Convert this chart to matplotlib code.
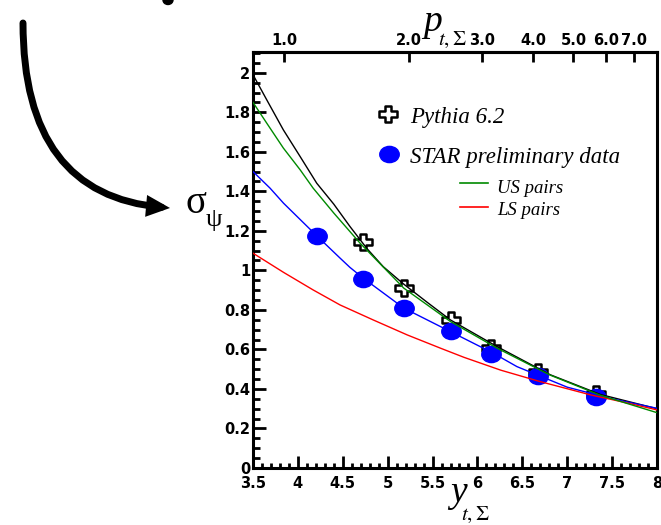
import numpy as np
import matplotlib
matplotlib.use('Agg')
import matplotlib.pyplot as plt
from matplotlib.patches import FancyArrowPatch, Ellipse
from matplotlib.path import Path
from matplotlib.markers import MarkerStyle
from matplotlib.transforms import Affine2D
from matplotlib.ticker import MultipleLocator, NullLocator

# STAR preliminary data points
star_y = [4.21, 4.73, 5.18, 5.70, 6.15, 6.67, 7.32]
star_sigma = [1.176, 0.958, 0.810, 0.695, 0.578, 0.467, 0.360]

# Pythia 6.2 points
pythia_y = [4.73, 5.18, 5.70, 6.15, 6.67, 7.32]
pythia_sigma = [1.146, 0.910, 0.749, 0.606, 0.485, 0.372]

# curves
black_y = [3.5, 3.653, 3.838, 4.025, 4.21, 4.40, 4.58, 4.77, 4.95, 5.18, 5.45, 5.70,
           6.22, 6.81, 7.37, 8.0]
black_s = [1.99, 1.863, 1.711, 1.576, 1.441, 1.335, 1.222, 1.11, 1.019, 0.93, 0.835, 0.749,
           0.614, 0.472, 0.372, 0.300]

us_y = [3.5, 3.653, 3.838, 4.025, 4.17, 4.40, 4.69, 5.18, 5.70, 6.22, 6.81, 7.37, 8.0]
us_s = [1.85, 1.745, 1.619, 1.509, 1.416, 1.29, 1.139, 0.91, 0.741, 0.606, 0.470, 0.368, 0.280]

blue_y = [3.5, 3.69, 3.84, 4.21, 4.47, 4.58, 4.73, 5.18, 5.70, 6.18, 6.44, 7.0, 7.5, 8.0]
blue_s = [1.50, 1.416, 1.34, 1.175, 1.062, 1.015, 0.96, 0.809, 0.69, 0.58, 0.513, 0.409,
          0.35, 0.302]

ls_y = [3.5, 3.84, 4.17, 4.47, 4.84, 5.22, 5.59, 5.85, 6.26, 6.70, 7.26, 7.6, 8.0]
ls_s = [1.087, 0.99, 0.901, 0.825, 0.749, 0.673, 0.606, 0.56, 0.495, 0.437, 0.37, 0.336, 0.294]

# top axis (p_t) ticks
p_ticks = [1.0, 2.0, 3.0, 4.0, 5.0, 6.0, 7.0]
p_labels = ['1.0', '2.0', '3.0', '4.0', '5.0', '6.0', '7.0']

W, H = 661, 525
plt.rcParams['mathtext.fontset'] = 'stix'
fig = plt.figure(figsize=(6.61, 5.25), dpi=100)
ax = fig.add_axes([253 / W, 1 - 468 / H, 404 / W, 416 / H])


def fpx(x, y):
    # pixel position -> figure fraction
    return (x / W, 1 - y / H)


# markers are a bit wider than tall in the original
wide = Affine2D().scale(1.2, 1.0)
blob = MarkerStyle(Path.unit_circle().transformed(wide))
t = 0.36
plus_pts = [(-t, 1), (t, 1), (t, t), (1, t), (1, -t), (t, -t), (t, -1), (-t, -1),
            (-t, -t), (-1, -t), (-1, t), (-t, t), (-t, 1)]
cross = MarkerStyle(Path(plus_pts, closed=True).transformed(wide))

ax.plot(pythia_y, pythia_sigma, ls='none', marker=cross, ms=13.5, mfc='white',
        mec='black', mew=1.8, zorder=3)
ax.plot(star_y, star_sigma, ls='none', marker=blob, ms=14, mfc='#0000ff',
        mec='#0000ff', zorder=4)
ax.plot(black_y, black_s, color='black', lw=1.0, zorder=5)
ax.plot(blue_y, blue_s, color='#0000ff', lw=1.0, zorder=5)
ax.plot(ls_y, ls_s, color='#ff0000', lw=1.0, zorder=5)
ax.plot(us_y, us_s, color='#008a00', lw=1.0, zorder=6)

ax.set_xlim(3.5, 8.0)
ax.set_ylim(0, 2.105)
ax.xaxis.set_minor_locator(MultipleLocator(0.1))
ax.yaxis.set_minor_locator(MultipleLocator(0.05))
ax.set_xticks([3.5, 4, 4.5, 5, 5.5, 6, 6.5, 7, 7.5, 8])
ax.set_xticklabels(['3.5', '4', '4.5', '5', '5.5', '6', '6.5', '7', '7.5', '8'])
ax.set_yticks([0, 0.2, 0.4, 0.6, 0.8, 1.0, 1.2, 1.4, 1.6, 1.8, 2.0])
ax.set_yticklabels(['0', '0.2', '0.4', '0.6', '0.8', '1', '1.2', '1.4', '1.6', '1.8', '2'])

ax.tick_params(which='both', direction='in', top=False, right=False, width=2)
ax.tick_params(axis='x', which='major', length=8.6, pad=6)
ax.tick_params(axis='x', which='minor', length=3.6)
ax.tick_params(axis='y', which='major', length=9, pad=2)
ax.tick_params(axis='y', which='minor', length=4.8)
for lab in ax.get_xticklabels() + ax.get_yticklabels():
    lab.set_fontweight('bold')
    lab.set_fontsize(10.5)
for sp in ax.spines.values():
    sp.set_linewidth(2.2)

# top axis in p_t
secax = ax.secondary_xaxis(
    'top',
    functions=(lambda y: np.exp((y - 3.85) / 2.0),
               lambda p: 3.85 + 2.0 * np.log(np.clip(p, 1e-6, None))))
secax.set_xticks(p_ticks)
secax.set_xticklabels(p_labels)
secax.xaxis.set_minor_locator(NullLocator())
secax.tick_params(direction='in', length=7, width=2, pad=3)
secax.spines['top'].set_linewidth(2.2)
for lab in secax.get_xticklabels():
    lab.set_fontweight('bold')
    lab.set_fontsize(10.5)

# legend drawn by hand
ax.plot([0.335], [0.850], transform=ax.transAxes, ls='none', marker=cross, ms=13.5,
        mfc='white', mec='black', mew=1.8, clip_on=False)
ax.plot([0.336], [0.755], transform=ax.transAxes, ls='none', marker=blob, ms=14,
        mfc='#0000ff', mec='#0000ff', clip_on=False)
ax.plot([0.512, 0.581], [0.686, 0.686], transform=ax.transAxes, color='#008a00', lw=1.2)
ax.plot([0.512, 0.581], [0.627, 0.627], transform=ax.transAxes, color='#ff0000', lw=1.2)
serif_it = dict(family='Liberation Serif', style='italic', va='baseline',
                transform=ax.transAxes)
ax.text(0.389, 0.829, 'Pythia 6.2', fontsize=16.5, **serif_it)
ax.text(0.389, 0.733, 'STAR preliminary data', fontsize=16.5, **serif_it)
ax.text(0.604, 0.661, 'US pairs', fontsize=13.5, **serif_it)
ax.text(0.604, 0.608, 'LS pairs', fontsize=13.5, **serif_it)

# axis titles
fig.text(*fpx(423, 31), 'p', family='Liberation Serif', style='italic',
         fontsize=27, va='baseline')
fig.text(*fpx(438, 45), r'$t,\Sigma$', fontsize=15, va='baseline')
fig.text(*fpx(450, 502), 'y', family='Liberation Serif', style='italic',
         fontsize=27, va='baseline')
fig.text(*fpx(461, 520), r'$t,\Sigma$', fontsize=15, va='baseline')
fig.text(*fpx(186, 213), 'σ', family='Liberation Serif', fontsize=28, va='baseline')
fig.text(*fpx(206, 226), 'ψ', family='Liberation Serif', fontsize=19, va='baseline')

# big curved arrow pointing at sigma
arrow = FancyArrowPatch(fpx(23, 23), fpx(170, 208), transform=fig.transFigure,
                        connectionstyle='angle3,angleA=-90,angleB=-5',
                        arrowstyle='-|>,head_length=0.35,head_width=0.16',
                        mutation_scale=25, lw=5, color='black',
                        shrinkA=0, shrinkB=0, joinstyle='miter')
fig.patches.append(arrow)
fig.patches.append(Ellipse(fpx(168, 0), 10 / W, 9 / H, transform=fig.transFigure,
                           color='black'))

fig.savefig('out.png', dpi=100)
